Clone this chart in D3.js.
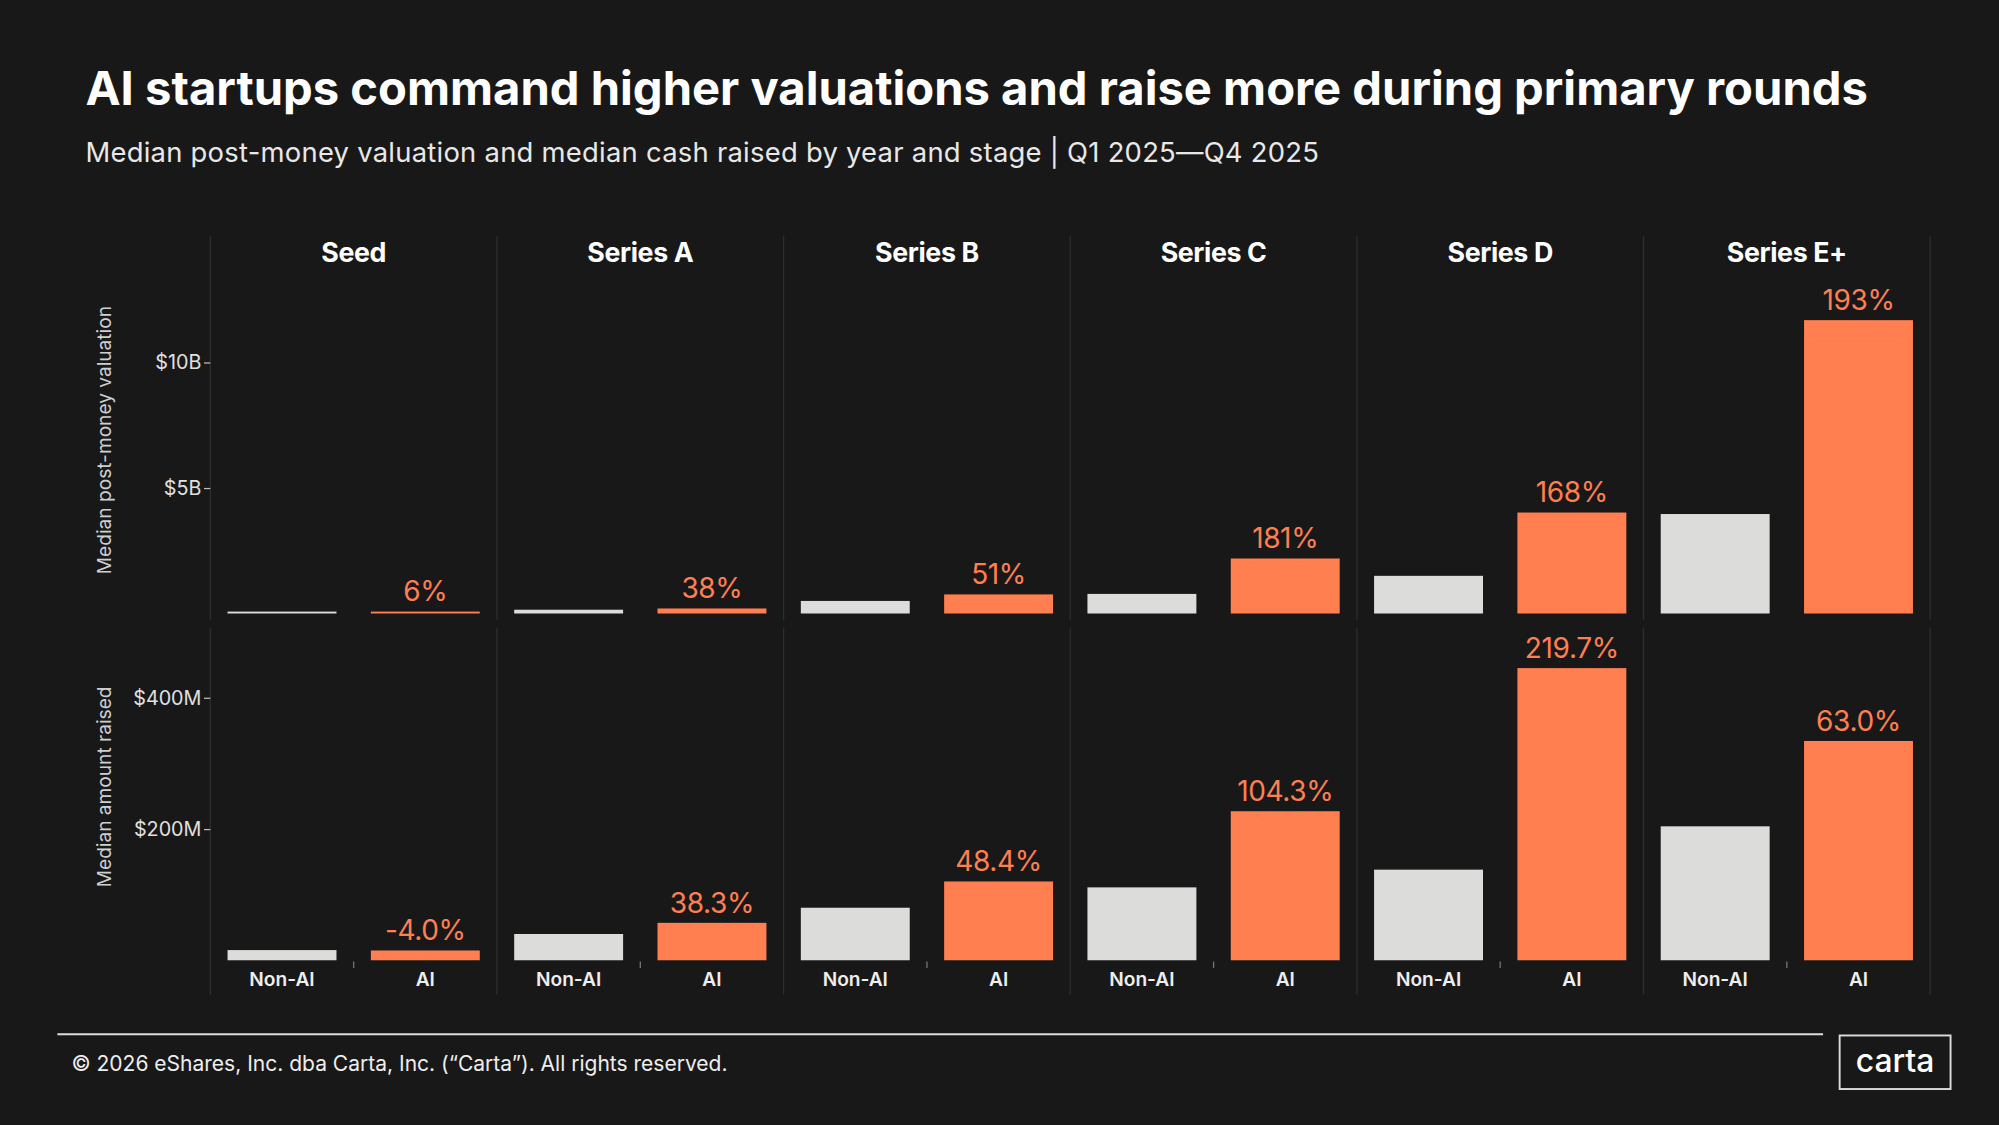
<!DOCTYPE html>
<html><head><meta charset="utf-8">
<script src="https://cdn.jsdelivr.net/npm/d3@7"></script>
<style>html,body{margin:0;padding:0;background:#181818;overflow:hidden}</style>
</head><body>
<svg id="c" width="1999" height="1125" viewBox="0 0 1568 882"></svg>
<script>
const stages = ["Seed","Series A","Series B","Series C","Series D","Series E+"];
const groups = ["Non-AI","AI"];
const valNonAI = [0.03,0.15,0.5,0.78,1.5,3.96];
const valAI = [0.03,0.2,0.76,2.19,4.02,11.68];
const valPct = ["6%","38%","51%","181%","168%","193%"];
const cashNonAI = [15.5,40,80,111,138,204];
const cashAI = [14.9,57,120,227,445,334];
const cashPct = ["-4.0%","38.3%","48.4%","104.3%","219.7%","63.0%"];
const valTicks = [5,10];
const cashTicks = [200,400];

const F = "Inter, 'Open Sans', sans-serif";
const ORANGE = "#ff7f50", GREY = "#dcdddb", BG = "#181818";
const svg = d3.select("#c");
svg.append("rect").attr("width",1568).attr("height",882).attr("fill",BG);

svg.append("text").attr("x",67).attr("y",82).attr("fill","#fff").attr("font-family",F)
  .attr("font-weight",700).attr("font-size",37).attr("letter-spacing",0)
  .text("AI startups command higher valuations and raise more during primary rounds");
svg.append("text").attr("x",67).attr("y",127).attr("fill","#e8e8e8").attr("font-family",F)
  .attr("font-size",21.5).attr("letter-spacing",0.2)
  .text("Median post-money valuation and median cash raised by year and stage | Q1 2025\u2014Q4 2025");

const x0 = d3.scaleBand().domain(stages).range([165,1514]);
const x1 = d3.scaleBand().domain(groups).range([0,x0.bandwidth()]).paddingInner(0.24).paddingOuter(0.12);

const yTop = d3.scaleLinear().domain([0,10]).range([481,284]);
const yBot = d3.scaleLinear().domain([0,400]).range([753,547]);

stages.concat(["end"]).forEach((s,i)=>{
  const xx = 165 + i*x0.bandwidth();
  svg.append("line").attr("x1",xx).attr("x2",xx).attr("y1",185).attr("y2",486).attr("stroke","#2e2e2e");
  svg.append("line").attr("x1",xx).attr("x2",xx).attr("y1",492).attr("y2",780).attr("stroke","#2e2e2e");
});

svg.selectAll(".hdr").data(stages).join("text").attr("x",d=>x0(d)+x0.bandwidth()/2).attr("y",205)
  .attr("text-anchor","middle").attr("fill","#fff").attr("font-family",F).attr("font-weight",700)
  .attr("font-size",21).attr("letter-spacing",-0.3).text(d=>d);

function panel(y, nonAI, ai, pct, ticks, fmt, title, midY){
  const ax = svg.append("g").attr("transform","translate(165,0)")
    .call(d3.axisLeft(y).tickValues(ticks).tickFormat(fmt).tickSize(5).tickPadding(2));
  ax.select(".domain").remove();
  ax.selectAll("line").attr("stroke","#bbb");
  ax.selectAll("text").attr("fill","#e0e0e0").attr("font-family",F).attr("font-size",15.5);
  svg.append("text").attr("transform",`translate(87,${midY}) rotate(-90)`).attr("text-anchor","middle")
    .attr("fill","#cfcfcf").attr("font-family",F).attr("font-size",15).text(title);
  stages.forEach((s,i)=>{
    const g = svg.append("g").attr("transform",`translate(${x0(s)},0)`);
    const data = [{k:"Non-AI",v:nonAI[i]},{k:"AI",v:ai[i]}];
    g.selectAll("rect").data(data).join("rect").attr("x",d=>x1(d.k)).attr("width",x1.bandwidth())
      .attr("y",d=>Math.min(y(d.v),y(0)-1.5)).attr("height",d=>Math.max(y(0)-y(d.v),1.5))
      .attr("fill",d=>d.k==="AI"?ORANGE:GREY);
    g.append("text").attr("x",x1("AI")+x1.bandwidth()/2).attr("y",Math.min(y(ai[i]),y(0)-1.5)-8)
      .attr("text-anchor","middle").attr("fill",ORANGE).attr("font-family",F).attr("font-size",22)
      .attr("letter-spacing",-0.3).text(pct[i]);
  });
}
panel(yTop, valNonAI, valAI, valPct, valTicks, d=>"$"+d+"B", "Median post-money valuation", 345);
panel(yBot, cashNonAI, cashAI, cashPct, cashTicks, d=>"$"+d+"M", "Median amount raised", 617);

stages.forEach(s=>{
  groups.forEach(gk=>{
    const cx = x0(s)+x1(gk)+x1.bandwidth()/2;
    svg.append("text").attr("x",cx).attr("y",773).attr("text-anchor","middle").attr("fill","#eee")
      .attr("font-family",F).attr("font-weight",600).attr("font-size",15).text(gk);
  });
  svg.append("line").attr("x1",x0(s)+x0.bandwidth()/2).attr("x2",x0(s)+x0.bandwidth()/2)
    .attr("y1",754).attr("y2",759).attr("stroke","#777");
});

svg.append("line").attr("x1",45).attr("x2",1430).attr("y1",811).attr("y2",811).attr("stroke","#ddd").attr("stroke-width",1.5);
svg.append("text").attr("x",56).attr("y",840).attr("fill","#eee").attr("font-family",F).attr("font-size",16.5)
  .attr("letter-spacing",0).text("\u00a9 2026 eShares, Inc. dba Carta, Inc. (\u201cCarta\u201d). All rights reserved.");
svg.append("rect").attr("x",1443).attr("y",812).attr("width",87).attr("height",42).attr("fill","none")
  .attr("stroke","#ddd").attr("stroke-width",1.5);
svg.append("text").attr("x",1486.5).attr("y",841).attr("text-anchor","middle").attr("fill","#fff")
  .attr("font-family",F).attr("font-size",25).attr("font-weight",500).text("carta");
</script>
</body></html>
